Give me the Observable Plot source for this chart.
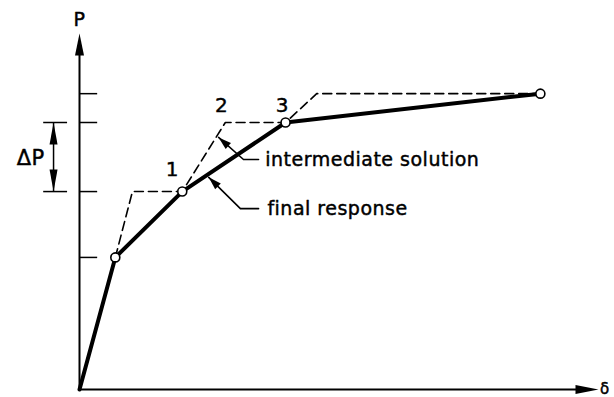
<!DOCTYPE html>
<html>
<head>
<meta charset="utf-8">
<script src="https://cdn.jsdelivr.net/npm/d3@7"></script>
<script src="https://cdn.jsdelivr.net/npm/@observablehq/plot@0.6"></script>
<style>
  html, body { margin: 0; padding: 0; background: #fff; }
  svg { display: block; }
</style>
</head>
<body>
<div id="chart"></div>
<script>
// Final (converged) load–displacement response
const finalX = [0, 6.9, 19.8, 39.7, 88.8];
const finalP = [0, 37.1, 55.6, 75.0, 83.1];
// Intermediate (step) solution, dashed
const interX = [6.9, 10.2, 19.8, 28.1, 39.7, 45.7, 88.8];
const interP = [37.1, 55.6, 55.6, 75.0, 75.0, 83.1, 83.1];
// Load levels marked on the P axis
const tickP = [37.1, 55.6, 75.0, 83.1];
// Step numbers
const stepLabels = ["1", "2", "3"];
const stepX = [17.9, 27.4, 39.1];
const stepY = [61.8, 79.8, 79.8];
// Leader annotations
const noteLabels = ["intermediate solution", "final response"];
const noteTipX = [26.8, 24.9];
const noteTipY = [70.8, 59.6];
const noteElbowX = [31.6, 31.0];
const noteEndX = [34.5, 34.5];
const noteY = [64.6, 50.8];
const noteTextX = [35.8, 36.2];
// Delta P dimension
const dimX = -5.0;
const dimX1 = -6.9, dimX2 = -2.3;
const axisMax = 100;

const W = 614, H = 397;
const mL = 79, mR = 16, mT = 33, mB = 8;
const xs = Plot.scale({x: {domain: [0, axisMax], range: [mL, W - mR]}});
const ys = Plot.scale({y: {domain: [0, axisMax], range: [H - mB, mT]}});
function angle(fromX, fromY, toX, toY) {
  const dx = xs.apply(toX) - xs.apply(fromX);
  const dy = ys.apply(toY) - ys.apply(fromY);
  return Math.atan2(dx, -dy) * 180 / Math.PI;
}
function head(L, w) {
  return {draw(ctx) { ctx.moveTo(0, 0); ctx.lineTo(w, L); ctx.lineTo(-w, L); ctx.closePath(); }};
}

const finalPts = finalX.map((x, i) => ({x, y: finalP[i]}));
const interPts = interX.map((x, i) => ({x, y: interP[i]}));
const steps = stepLabels.map((t, i) => ({t, x: stepX[i], y: stepY[i]}));
const leaders = [];
noteLabels.forEach((label, i) => {
  leaders.push({label, x: noteTipX[i], y: noteTipY[i]});
  leaders.push({label, x: noteElbowX[i], y: noteY[i]});
  leaders.push({label, x: noteEndX[i], y: noteY[i]});
});
const leaderHeads = noteLabels.map((label, i) => ({
  x: noteTipX[i], y: noteTipY[i],
  r: angle(noteElbowX[i], noteY[i], noteTipX[i], noteTipY[i])
}));
const notes = noteLabels.map((t, i) => ({t, x: noteTextX[i], y: noteY[i]}));
const dP = [tickP[1], tickP[2]];
const font = "DejaVu Sans, Arial, sans-serif";
const txt = {fontFamily: font, stroke: "black", strokeWidth: 0.45, fill: "black"};

const chart = Plot.plot({
  width: W, height: H,
  marginLeft: mL, marginRight: mR, marginTop: mT, marginBottom: mB,
  x: {domain: [0, axisMax], axis: null},
  y: {domain: [0, axisMax], axis: null},
  style: {background: "white", color: "black", overflow: "visible"},
  marks: [
    // axes
    Plot.ruleX([0], {y1: 0, y2: axisMax - 3, stroke: "black", strokeWidth: 2}),
    Plot.ruleY([0], {x1: 0, x2: axisMax - 2, stroke: "black", strokeWidth: 2}),
    Plot.dot([{x: 0, y: axisMax}], {x: "x", y: "y", symbol: head(22, 4.5), fill: "black", stroke: "none", rotate: 0}),
    Plot.dot([{x: axisMax, y: 0}], {x: "x", y: "y", symbol: head(23, 4.5), fill: "black", stroke: "none", rotate: 90}),
    Plot.text(["P"], {x: 0, y: axisMax + 3.7, text: d => d, fontSize: 19, ...txt}),
    Plot.text(["δ"], {x: axisMax + 0.3, y: 0, text: d => d, fontSize: 15, ...txt, textAnchor: "start"}),
    // load-level ticks
    Plot.ruleY(tickP, {x1: 0, x2: 3.5, stroke: "black", strokeWidth: 1.5}),
    // Delta P dimension
    Plot.ruleY(dP, {x1: dimX1, x2: dimX2, stroke: "black", strokeWidth: 1.5}),
    Plot.ruleX([dimX], {y1: dP[0], y2: dP[1], stroke: "black", strokeWidth: 1.5}),
    Plot.dot([{y: dP[1]}], {x: () => dimX, y: "y", symbol: head(22, 4), fill: "black", stroke: "none", rotate: 0}),
    Plot.dot([{y: dP[0]}], {x: () => dimX, y: "y", symbol: head(22, 4), fill: "black", stroke: "none", rotate: 180}),
    Plot.text(["ΔP"], {x: dimX - 4.4, y: (dP[0] + dP[1]) / 2 - 0.3, text: d => d, fontSize: 21, ...txt}),
    // intermediate solution
    Plot.line(interPts, {x: "x", y: "y", stroke: "black", strokeWidth: 1.6, strokeDasharray: "9,5"}),
    // final response
    Plot.line(finalPts, {x: "x", y: "y", stroke: "black", strokeWidth: 4, strokeLinejoin: "round"}),
    Plot.dot(finalPts.slice(1), {x: "x", y: "y", r: 4.5, fill: "white", stroke: "black", strokeWidth: 1.6}),
    // step labels
    Plot.text(steps, {x: "x", y: "y", text: "t", fontSize: 20, ...txt}),
    // leaders
    Plot.line(leaders, {x: "x", y: "y", z: "label", stroke: "black", strokeWidth: 1.6}),
    Plot.dot(leaderHeads, {x: "x", y: "y", rotate: "r", symbol: head(13, 4), fill: "black", stroke: "none"}),
    Plot.text(notes, {x: "x", y: "y", text: "t", fontSize: 19, ...txt, textAnchor: "start"})
  ]
});
chart.style.letterSpacing = "0.5px";
document.getElementById("chart").appendChild(chart);
</script>
</body>
</html>
